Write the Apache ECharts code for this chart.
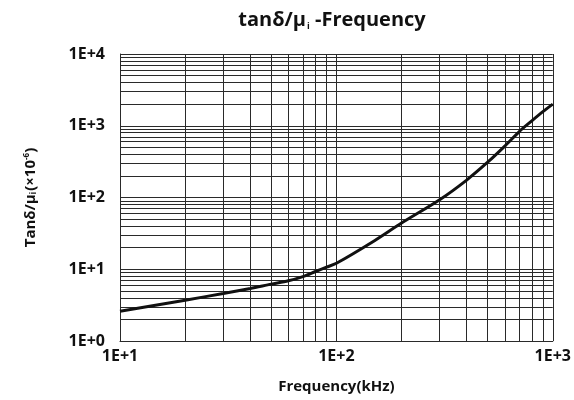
<!DOCTYPE html>
<html>
<head>
<meta charset="utf-8">
<script src="https://cdn.jsdelivr.net/npm/echarts@6/dist/echarts.min.js"></script>
<style>
  html, body { margin: 0; padding: 0; background: #fff; }
  #chart { width: 574px; height: 400px; }
</style>
</head>
<body>
<div id="chart"></div>
<script>
// frequency (kHz) and tanδ/μi (x10^-6)
var freqs = [10, 20, 30, 40, 50, 60, 70, 80, 90, 100, 150, 200, 300, 400, 500, 600, 700, 800, 900, 1000];
var lossValues = [2.6, 3.7, 4.6, 5.4, 6.2, 6.9, 7.9, 9.3, 10.7, 12.1, 25, 44, 93, 175, 310, 520, 830, 1170, 1570, 2000];
var xMinorGrid = [20, 30, 40, 50, 60, 70, 80, 90, 200, 300, 400, 500, 600, 700, 800, 900];
var yMinorGrid = [2, 3, 4, 5, 6, 7, 8, 9, 20, 30, 40, 50, 60, 70, 80, 90,
                  200, 300, 400, 500, 600, 700, 800, 900, 2000, 3000, 4000, 5000, 6000, 7000, 8000, 9000];

var chartDom = document.getElementById('chart');
var myChart = echarts.init(chartDom, null, { renderer: 'canvas' });
var fontFam = '"Open Sans", "DejaVu Sans", sans-serif';
var gridColor = '#2a2a2a';

function expLabel(v) {
    return '1E+' + Math.round(Math.log10(v));
}

var curve = freqs.map(function (f, i) { return [f, lossValues[i]]; });

var minorLines = [];
xMinorGrid.forEach(function (v) { minorLines.push({ xAxis: v }); });
yMinorGrid.forEach(function (v) { minorLines.push({ yAxis: v }); });

var option = {
    animation: false,
    title: {
        text: '{a|tanδ/μ}{s|i}{a| -Frequency}',
        left: 327,
        textAlign: 'center',
        top: 5,
        textStyle: {
            rich: {
                a: { fontFamily: fontFam, fontSize: 20, fontWeight: 'bold', color: '#111' },
                s: { fontFamily: fontFam, fontSize: 9, fontWeight: 'bold', color: '#111', verticalAlign: 'bottom', padding: [12, 0, 0, 1] }
            }
        }
    },
    grid: { left: 120, right: 15, top: 54, bottom: 59 },
    xAxis: {
        type: 'log',
        logBase: 10,
        min: 10,
        max: 1000,
        name: 'Frequency(kHz)',
        nameLocation: 'middle',
        nameGap: 38,
        nameTextStyle: { fontFamily: fontFam, fontSize: 15, fontWeight: 'bold', color: '#111' },
        axisLine: { show: true, lineStyle: { color: gridColor, width: 1 } },
        axisTick: { show: false },
        axisLabel: { formatter: expLabel, fontFamily: fontFam, fontSize: 16, fontWeight: 'bold', color: '#111', margin: 7 },
        splitLine: { show: true, lineStyle: { color: gridColor, width: 1 } }
    },
    yAxis: {
        type: 'log',
        logBase: 10,
        min: 1,
        max: 10000,
        name: '{a|Tanδ/μ}{s|i}{a|(×10}{p|-6}{a|)}',
        nameLocation: 'middle',
        nameGap: 82,
        nameRotate: 90,
        nameTextStyle: {
            rich: {
                a: { fontFamily: fontFam, fontSize: 15, fontWeight: 'bold', color: '#111' },
                s: { fontFamily: fontFam, fontSize: 8, fontWeight: 'bold', color: '#111', verticalAlign: 'bottom', padding: [7, 1, 0, 0] },
                p: { fontFamily: fontFam, fontSize: 8, fontWeight: 'bold', color: '#111', verticalAlign: 'top', padding: [0, 0, 7, 0] }
            }
        },
        axisLine: { show: true, lineStyle: { color: gridColor, width: 1 } },
        axisTick: { show: false },
        axisLabel: { formatter: expLabel, fontFamily: fontFam, fontSize: 16, fontWeight: 'bold', color: '#111', margin: 15 },
        splitLine: { show: true, lineStyle: { color: gridColor, width: 1 } }
    },
    series: [
        {
            name: 'grid',
            type: 'line',
            data: [],
            silent: true,
            markLine: {
                silent: true,
                symbol: ['none', 'none'],
                label: { show: false },
                lineStyle: { color: gridColor, width: 1, type: 'solid' },
                emphasis: { disabled: true },
                data: minorLines
            }
        },
        {
            name: 'tanδ/μi',
            type: 'line',
            data: curve,
            smooth: 0.3,
            symbol: 'none',
            lineStyle: { color: '#111', width: 3 },
            z: 5
        }
    ]
};

option && myChart.setOption(option);
</script>
</body>
</html>
